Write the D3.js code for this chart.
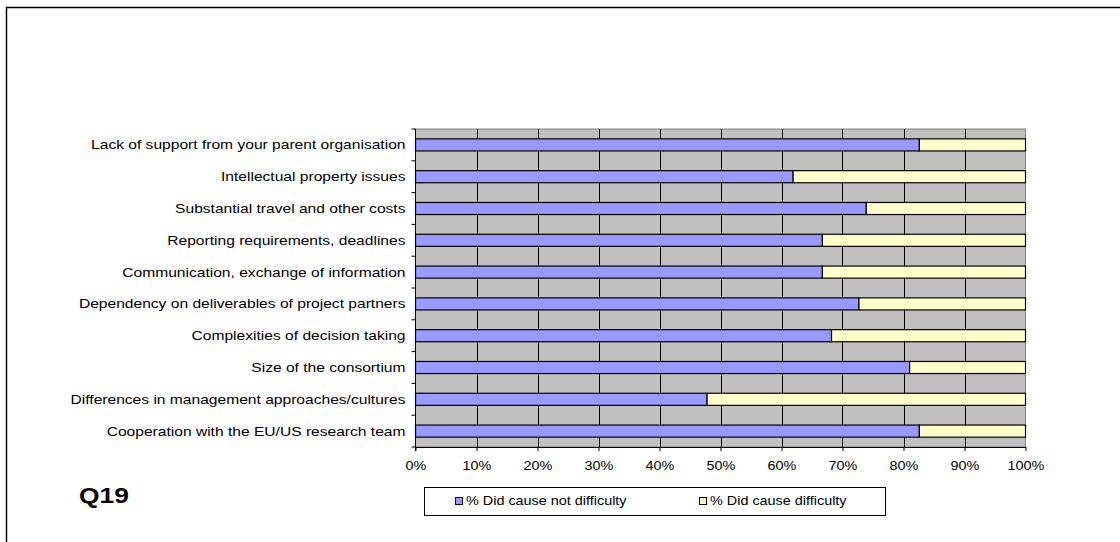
<!DOCTYPE html>
<html>
<head>
<meta charset="utf-8">
<script src="https://cdn.jsdelivr.net/npm/d3@7"></script>
<style>
  html, body { margin: 0; padding: 0; background: #fff; }
  svg { display: block; font-family: Arial, "Liberation Sans", sans-serif; }
</style>
</head>
<body>
<svg id="chart" width="1120" height="542"></svg>
<script>
// Survey question Q19: share of respondents per issue
const categories = [
  "Lack of support from your parent organisation",
  "Intellectual property issues",
  "Substantial travel and other costs",
  "Reporting requirements, deadlines",
  "Communication, exchange of information",
  "Dependency on deliverables of project partners",
  "Complexities of decision taking",
  "Size of the consortium",
  "Differences in management approaches/cultures",
  "Cooperation with the EU/US research team"
];
const noDifficulty = [82.6, 61.9, 73.9, 66.7, 66.7, 72.7, 68.2, 81.0, 47.8, 82.6];
const difficulty = noDifficulty.map(v => +(100 - v).toFixed(1));
const seriesNames = ["% Did cause not difficulty", "% Did cause difficulty"];
const seriesColors = ["#9999FF", "#FFFFCC"];
const tickValues = [0, 10, 20, 30, 40, 50, 60, 70, 80, 90, 100];

const svg = d3.select("#chart");
const stretch = 1.2; // text is drawn slightly widened

// outer chart frame (right/bottom edges run off the page)
svg.append("rect")
  .attr("x", 6.5).attr("y", 7.5)
  .attr("width", 1200).attr("height", 600)
  .attr("fill", "none").attr("stroke", "#000").attr("stroke-width", 1.5);

const plot = { left: 415.5, right: 1025.5, top: 129, bottom: 447 };

const x = d3.scaleLinear().domain([0, 100]).range([plot.left, plot.right]);
const y = d3.scaleBand().domain(categories).range([plot.top, plot.bottom]).paddingInner(0).paddingOuter(0);
const barH = y.bandwidth() * 0.38;

// plot background
svg.append("rect")
  .attr("x", plot.left).attr("y", plot.top)
  .attr("width", plot.right - plot.left).attr("height", plot.bottom - plot.top)
  .attr("fill", "#C0C0C0").attr("stroke", "#808080").attr("stroke-width", 1);

// vertical gridlines
svg.append("g").selectAll("line")
  .data(tickValues.slice(1, -1))
  .join("line")
  .attr("x1", d => Math.round(x(d)) + 0.5).attr("x2", d => Math.round(x(d)) + 0.5)
  .attr("y1", plot.top).attr("y2", plot.bottom)
  .attr("stroke", "#000").attr("stroke-width", 1);

// stacked bars
const stacked = d3.stack().keys([0, 1])(categories.map((c, i) => ({ 0: noDifficulty[i], 1: difficulty[i], cat: c })));
svg.append("g").selectAll("g")
  .data(stacked)
  .join("g")
  .attr("fill", (d, i) => seriesColors[i])
  .selectAll("rect")
  .data(d => d)
  .join("rect")
  .attr("x", d => x(d[0]))
  .attr("width", d => x(d[1]) - x(d[0]))
  .attr("y", d => y(d.data.cat) + (y.bandwidth() - barH) / 2)
  .attr("height", barH)
  .attr("stroke", "#000").attr("stroke-width", 1.2);

// x axis
const xAxis = svg.append("g")
  .attr("transform", `translate(0,${plot.bottom})`)
  .call(d3.axisBottom(x).tickValues(tickValues).tickFormat(d => d + "%").tickSizeOuter(0).tickSizeInner(4).tickPadding(10));
xAxis.select(".domain").attr("stroke", "#000");
xAxis.selectAll("line").attr("stroke", "#000");
xAxis.selectAll(".tick text")
  .attr("font-size", 12).attr("fill", "#000")
  .attr("font-family", "Arial, 'Liberation Sans', sans-serif")
  .attr("transform", `scale(${stretch},1)`)
  .attr("x", 0);

// y axis: ticks on category boundaries
const yAxis = svg.append("g");
yAxis.append("line")
  .attr("x1", plot.left).attr("x2", plot.left)
  .attr("y1", plot.top).attr("y2", plot.bottom + 4)
  .attr("stroke", "#000");
yAxis.selectAll("line.tick")
  .data(categories.map(c => y(c)).concat([plot.bottom]))
  .join("line")
  .attr("class", "tick")
  .attr("x1", plot.left - 4).attr("x2", plot.left)
  .attr("y1", d => d).attr("y2", d => d)
  .attr("stroke", "#000");
yAxis.selectAll("text")
  .data(categories)
  .join("text")
  .attr("transform", d => `translate(${plot.left - 10},${y(d) + y.bandwidth() / 2}) scale(${stretch},1)`)
  .attr("dy", "0.35em")
  .attr("text-anchor", "end")
  .attr("font-size", 13)
  .attr("fill", "#000")
  .text(d => d);

// question label
svg.append("text")
  .attr("transform", `translate(79,503) scale(${stretch},1)`)
  .attr("font-size", 22).attr("font-weight", "bold")
  .text("Q19");

// legend
const legend = svg.append("g");
legend.append("rect")
  .attr("x", 424.5).attr("y", 487.5).attr("width", 461).attr("height", 28)
  .attr("fill", "#fff").attr("stroke", "#000").attr("stroke-width", 1);
const legendX = [455, 699];
seriesNames.forEach((name, i) => {
  legend.append("rect")
    .attr("x", legendX[i] + 0.5).attr("y", 497.5).attr("width", 7).attr("height", 7)
    .attr("fill", seriesColors[i]).attr("stroke", "#000");
  legend.append("text")
    .attr("transform", `translate(${legendX[i] + 11},501) scale(${stretch},1)`)
    .attr("dy", "0.35em")
    .attr("font-size", 12).attr("fill", "#000")
    .text(name);
});
</script>
</body>
</html>
